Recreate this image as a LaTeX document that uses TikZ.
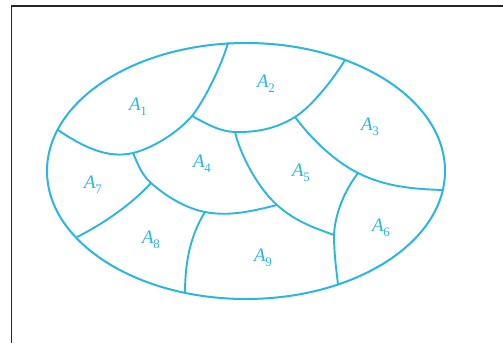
\documentclass[tikz,border=0pt]{standalone}
\usepackage{fontspec}
\setmainfont{Liberation Serif}
\definecolor{lineblue}{RGB}{41,182,227}
\newcommand{\lab}[1]{{\itshape A}\kern-0.5pt\raisebox{-0.28em}{\fontsize{13}{13}\selectfont #1}}
\begin{document}
\begin{tikzpicture}[x=1pt,y=-1pt,
  region/.style={draw=lineblue,line width=2pt},
  divider/.style={draw=lineblue,line width=1.9pt,line cap=round,line join=round},
  lbl/.style={text=lineblue,font=\fontsize{19}{21}\selectfont,inner sep=0pt}]
\useasboundingbox (0,0) rectangle (503,343);
% frame
\draw[line width=1.4pt,black!85] (11.5,343) -- (11.5,6) -- (503,6);
% outer ellipse
\path[region] (246,171) ellipse [x radius=199, y radius=128];
% named points
\coordinate (e1) at (58,130);
\coordinate (e2) at (228,43);
\coordinate (e3) at (345,60);
\coordinate (e4) at (442,190);
\coordinate (e5) at (77,237);
\coordinate (e6) at (185,293);
\coordinate (e7) at (338,284);
\coordinate (j1) at (133,153);
\coordinate (j2) at (192,116);
\coordinate (j3) at (235,132);
\coordinate (j4) at (295,117);
\coordinate (j5) at (151,183);
\coordinate (j6) at (205,212);
\coordinate (j7) at (277,205);
\coordinate (j8) at (358,173);
\coordinate (j9) at (334,235);
% dividers
\draw[divider] (e1) .. controls +(25,17) and +(-25,6) .. (j1)
                    .. controls +(22,-5.5) and +(-13,15) .. (j2)
                    .. controls +(12,-15) and +(-7,24) .. (e2);
\draw[divider] (j2) .. controls +(15,8) and +(-15,-0.3) .. (j3)
                    .. controls +(20,0.4) and +(-20,12.4) .. (j4)
                    .. controls +(17,-10.5) and +(-11,18) .. (e3);
\draw[divider] (j4) .. controls +(18,24) and +(-22,-11) .. (j8)
                    .. controls +(28,14) and +(-28,-1) .. (e4);
\draw[divider] (j1) .. controls +(5,11) and +(-10,-9) .. (j5)
                    .. controls +(17,15) and +(-18,-3.6) .. (j6)
                    .. controls +(24,4.8) and +(-24,6) .. (j7);
\draw[divider] (j3) .. controls +(6,25) and +(-18,-16) .. (j7)
                    .. controls +(19,17) and +(-19,-7) .. (j9);
\draw[divider] (j5) .. controls +(-20,22) and +(25,-12.5) .. (e5);
\draw[divider] (j6) .. controls +(-15,24) and +(0,-30) .. (e6);
\draw[divider] (j8) .. controls +(-15,20) and +(1,-20) .. (j9)
                    .. controls +(0,17) and +(-2,-16) .. (e7);
% labels
\node[lbl] (a1) at (138,107) {\lab{1}};
\node[lbl] (a2) at (266,84) {\lab{2}};
\node[lbl] (a3) at (370,127) {\lab{3}};
\node[lbl] (a4) at (202,164) {\lab{4}};
\node[lbl] (a5) at (301,173) {\lab{5}};
\node[lbl] (a6) at (381,228) {\lab{6}};
\node[lbl] (a7) at (93,185) {\lab{7}};
\node[lbl] (a8) at (151,240) {\lab{8}};
\node[lbl] (a9) at (263,258) {\lab{9}};
\end{tikzpicture}
\end{document}
